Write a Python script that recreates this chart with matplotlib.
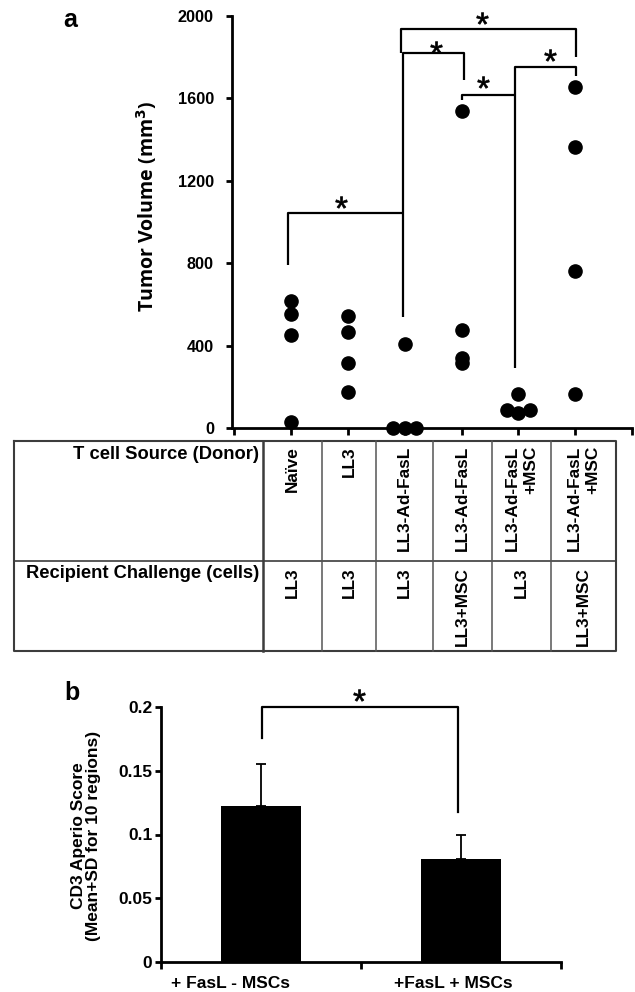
import matplotlib
matplotlib.use("Agg")
import matplotlib.pyplot as plt
import numpy as np
from matplotlib.textpath import TextPath
from matplotlib.font_manager import FontProperties
from matplotlib.path import Path

plt.rcParams['font.family'] = ['Liberation Sans', 'DejaVu Sans']
plt.rcParams['font.weight'] = 'bold'

# ---------------- data: panel a ----------------
donor = ['Naïve', 'LL3', 'LL3-Ad-FasL', 'LL3-Ad-FasL', 'LL3-Ad-FasL\n+MSC', 'LL3-Ad-FasL\n+MSC']
recipient = ['LL3', 'LL3', 'LL3', 'LL3+MSC', 'LL3', 'LL3+MSC']
volumes = [
    [618, 551, 453, 28],
    [544, 468, 317, 175],
    [409, 0, 0, 0],
    [1539, 476, 341, 317],
    [163, 85, 75, 85],
    [1657, 1366, 762, 163],
]
jitter = [
    [0, 0, 0, 0],
    [0, 0, 0, 0],
    [0, -0.2, 0, 0.2],
    [0, 0, 0, 0],
    [0, -0.2, 0, 0.2],
    [0, 0, 0, 0],
]
yticks_a = [0, 400, 800, 1200, 1600, 2000]

# significance brackets (x in group units, y in mm^3)
brackets_a = [
    [(0.947, 791), (0.947, 1043), (2.97, 1043)],
    [(2.97, 539), (2.97, 1819), (4.05, 1819), (4.05, 1689)],
    [(2.94, 1819), (2.94, 1938), (6.02, 1938), (6.02, 1801)],
    [(4.01, 1592), (4.01, 1617), (4.94, 1617)],
    [(4.94, 291), (4.94, 1754), (6.02, 1754), (6.02, 1709)],
]
stars_a = [(1.88, 1097), (3.55, 1850), (4.36, 1990), (4.38, 1680), (5.56, 1811)]

# ---------------- data: panel b ----------------
groups_b = ['+ FasL - MSCs', '+FasL + MSCs']
means_b = [0.1226, 0.0805]
sd_b = [0.0325, 0.0191]
yticks_b = [0, 0.05, 0.1, 0.15, 0.2]
ytick_labels_b = ['0', '0.05', '0.1', '0.15', '0.2']
bracket_b = [(0.505, 0.176), (0.505, 0.2), (1.486, 0.2), (1.486, 0.118)]
star_b = (0.991, 0.2094)

W, H = 635, 992
fig = plt.figure(figsize=(W / 100, H / 100), dpi=100)

def fx(px):
    return px / W

def fy(py):
    return 1 - py / H

# centred regular-weight asterisk marker
_tp = TextPath((0, 0), '*', size=1, prop=FontProperties(family='Liberation Sans', weight='normal'))
_v = _tp.vertices.copy()
_codes = _tp.codes.copy()
_keep = _codes != Path.CLOSEPOLY
_x0, _x1 = _v[_keep, 0].min(), _v[_keep, 0].max()
_y0, _y1 = _v[_keep, 1].min(), _v[_keep, 1].max()
_v[:, 0] -= (_x0 + _x1) / 2
_v[:, 1] -= (_y0 + _y1) / 2
_v[~_keep] = 0.0
STAR = Path(_v, _codes)

# ---------------- panel a ----------------
axa = fig.add_axes([fx(232), fy(428), 400 / W, 412 / H])
for i, vals in enumerate(volumes):
    xs = [i + 1 + j for j in jitter[i]]
    axa.plot(xs, vals, 'o', color='black', ms=9.5, clip_on=False, zorder=3)
for seg in brackets_a:
    xs, ys = zip(*seg)
    axa.plot(xs, ys, color='black', lw=1.6, clip_on=False, solid_capstyle='butt')
for sx, sy in stars_a:
    axa.plot(sx, sy, marker=STAR, ms=8.5, color='black', mew=0.5, clip_on=False)
axa.set_xlim(-0.04, 7)
axa.set_ylim(0, 2000)
axa.set_yticks(yticks_a)
axa.set_yticklabels([str(v) for v in yticks_a], fontsize=11.7, fontweight='bold')
axa.set_xticks(range(0, 8))
axa.set_xticklabels([])
for s in ['top', 'right']:
    axa.spines[s].set_visible(False)
for s in ['left', 'bottom']:
    axa.spines[s].set_linewidth(2)
axa.tick_params(direction='out', length=4, width=2, pad=9)
axa.tick_params(axis='x', length=5)

# ---------------- overlay for table and labels ----------------
ov = fig.add_axes([0, 0, 1, 1], zorder=-1)
ov.set_xlim(0, W)
ov.set_ylim(H, 0)
ov.axis('off')

tab_left, tab_right = 14, 616
tab_top, tab_mid, tab_bot = 441, 561, 651
col_edges = [263, 322, 376, 433, 492, 551, 616]
lc = '#3c3c3c'
ov.plot([tab_left, tab_right, tab_right, tab_left, tab_left],
        [tab_top, tab_top, tab_bot, tab_bot, tab_top], color=lc, lw=1.5)
ov.plot([tab_left, tab_right], [tab_mid, tab_mid], color=lc, lw=1.2)
for k, xe in enumerate(col_edges[:-1]):
    ov.plot([xe, xe], [tab_top, tab_bot], color=lc if k == 0 else '#555555',
            lw=1.8 if k == 0 else 1.1)

ov.text(259, 446, 'T cell Source (Donor)', ha='right', va='top', fontsize=13.2, fontweight='bold')
ov.text(259, 565, 'Recipient Challenge (cells)', ha='right', va='top', fontsize=13.2, fontweight='bold')
for k in range(6):
    cx = (col_edges[k] + col_edges[k + 1]) / 2
    ov.text(cx, 446, donor[k], rotation=90, ha='center', va='top', fontsize=12.4,
            fontweight='bold', multialignment='right', linespacing=1.25)
    ov.text(cx, 567, recipient[k], rotation=90, ha='center', va='top', fontsize=12.4,
            fontweight='bold')

ov.text(70, 20, 'a', ha='center', va='center', fontsize=18, fontweight='bold')
ov.text(72, 693, 'b', ha='center', va='center', fontsize=18, fontweight='bold')
ov.text(147, 206, r'Tumor Volume (mm$^\mathbf{3}$)', rotation=90, ha='center', va='center',
        fontsize=14, fontweight='bold', family=['Open Sans', 'DejaVu Sans'])
ov.text(86, 836, 'CD3 Aperio Score\n(Mean+SD for 10 regions)', rotation=90, ha='center',
        va='center', fontsize=12.5, fontweight='bold', linespacing=1.05)

# ---------------- panel b ----------------
axb = fig.add_axes([fx(160.7), fy(962), 400.3 / W, 255 / H])
pos_b = [0.5, 1.5]
axb.bar(pos_b, means_b, width=0.4, color='black', zorder=2)
axb.errorbar(pos_b, means_b, yerr=[[0, 0], sd_b], fmt='none', ecolor='black',
             elinewidth=1.3, capsize=3.5, capthick=1.3, zorder=1)
xs, ys = zip(*bracket_b)
axb.plot(xs, ys, color='black', lw=1.6, clip_on=False)
axb.plot(star_b[0], star_b[1], marker=STAR, ms=8.5, color='black', mew=0.5, clip_on=False)
axb.set_xlim(0, 2)
axb.set_ylim(0, 0.2)
axb.set_yticks(yticks_b)
axb.set_yticklabels(ytick_labels_b, fontsize=12.5, fontweight='bold')
axb.set_xticks([0, 1, 2], minor=True)
axb.set_xticks([0.35, 1.46])
axb.set_xticklabels(groups_b, fontsize=12.5, fontweight='bold')
for s in ['top', 'right']:
    axb.spines[s].set_visible(False)
for s in ['left', 'bottom']:
    axb.spines[s].set_linewidth(2)
axb.tick_params(axis='y', direction='out', length=4, width=2, pad=2)
axb.tick_params(axis='x', which='major', length=0, pad=10)
axb.tick_params(axis='x', which='minor', direction='out', length=5, width=2)

fig.savefig('out.png', dpi=100)
